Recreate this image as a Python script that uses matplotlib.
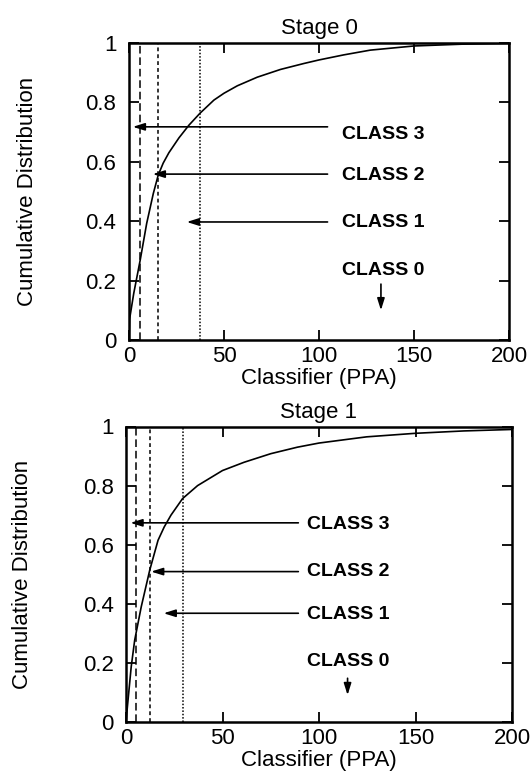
import matplotlib
matplotlib.use('Agg')
import matplotlib.pyplot as plt

plt.rcParams['font.family'] = ['Liberation Sans', 'DejaVu Sans']

# curve readings (Classifier PPA -> cumulative fraction)
stage0_x = [0, 0.3, 2.5, 5.9, 9.3, 12.8, 15.4, 18, 21, 26.3, 31.6, 37.4, 44.7, 50,
            57, 67.5, 79.7, 92, 100, 113, 127, 150, 175, 200]
stage0_y = [0, 0.07, 0.157, 0.269, 0.392, 0.493, 0.555, 0.595, 0.63, 0.68, 0.723,
            0.763, 0.807, 0.83, 0.855, 0.884, 0.910, 0.93, 0.942, 0.959, 0.975,
            0.989, 0.995, 0.998]

stage1_x = [0, 0.7, 2.7, 4.5, 7.9, 12.3, 16.6, 19.8, 23.3, 29.3, 37.1, 50, 61.2,
            75, 88.8, 100, 116.4, 124.7, 150, 175, 200]
stage1_y = [0, 0.05, 0.187, 0.277, 0.39, 0.514, 0.615, 0.66, 0.70, 0.756, 0.80,
            0.851, 0.879, 0.908, 0.93, 0.944, 0.958, 0.965, 0.977, 0.985, 0.99]

# class boundaries (vertical lines)
stage0_bounds = [6.0, 15.0, 37.2]
stage1_bounds = [5.0, 12.3, 29.5]

# arrows for classes 3, 2, 1 (height, tip) and the class 0 arrow
stage0_arrow_y = [0.717, 0.558, 0.397]
stage0_arrow_tip = [2.0, 12.5, 30.4]
stage0_arrow_tail = 104.5
stage0_c0 = (132.6, 0.188, 0.10)
stage1_arrow_y = [0.674, 0.509, 0.368]
stage1_arrow_tip = [2.3, 13.0, 19.5]
stage1_arrow_tail = 89.3
stage1_c0 = (114.8, 0.148, 0.091)

class_labels = ['CLASS 3', 'CLASS 2', 'CLASS 1', 'CLASS 0']
stage0_label_x = 112
stage0_label_y = [0.69, 0.553, 0.395, 0.235]
stage1_label_x = 94
stage1_label_y = [0.670, 0.509, 0.364, 0.204]

xticks = [0, 50, 100, 150, 200]
yticks = [0, 0.2, 0.4, 0.6, 0.8, 1]
ytick_labels = ['0', '0.2', '0.4', '0.6', '0.8', '1']

bound_styles = [(0, (5, 2.5)), (0, (2.5, 2)), (0, (1, 1.2))]

fig = plt.figure(figsize=(5.32, 7.77), dpi=100)
ax0 = fig.add_axes([129 / 532, 1 - 340 / 777, 380 / 532, 297.3 / 777])
ax1 = fig.add_axes([126 / 532, 1 - 722 / 777, 386 / 532, 295.5 / 777])

panels = [
    (ax0, 'Stage 0', stage0_x, stage0_y, stage0_bounds, stage0_arrow_y,
     stage0_arrow_tip, stage0_arrow_tail, stage0_c0, stage0_label_x, stage0_label_y, -0.24),
    (ax1, 'Stage 1', stage1_x, stage1_y, stage1_bounds, stage1_arrow_y,
     stage1_arrow_tip, stage1_arrow_tail, stage1_c0, stage1_label_x, stage1_label_y, -0.242),
]

for (ax, title, cx, cy, bounds, ay, atip, atail, c0, lx, ly, ylab_x) in panels:
    ax.plot(cx, cy, color='black', lw=1.2)
    for b, ls in zip(bounds, bound_styles):
        ax.axvline(b, color='black', lw=1.1, linestyle=ls)

    # horizontal class arrows
    for y, tip in zip(ay, atip):
        ax.annotate('', xy=(tip, y), xytext=(atail, y),
                    arrowprops=dict(arrowstyle='-|>,head_length=0.7,head_width=0.22',
                                    color='black', lw=1.2, shrinkA=0, shrinkB=0))
    # class 0 arrow points down
    ax.annotate('', xy=(c0[0], c0[2]), xytext=(c0[0], c0[1]),
                arrowprops=dict(arrowstyle='-|>,head_length=0.7,head_width=0.22',
                                color='black', lw=1.2, shrinkA=0, shrinkB=0))

    for lab, y in zip(class_labels, ly):
        ax.text(lx, y, lab, fontsize=14, fontweight='bold', ha='left', va='center')

    ax.set_xlim(0, 200)
    ax.set_ylim(0, 1)
    ax.set_xticks(xticks)
    ax.set_yticks(yticks)
    ax.set_yticklabels(ytick_labels)
    ax.tick_params(direction='in', top=True, right=True, length=7, width=1.3,
                   labelsize=16)
    ax.tick_params(axis='x', pad=4)
    ax.tick_params(axis='y', pad=9)
    for sp in ax.spines.values():
        sp.set_linewidth(1.8)

    ax.set_title(title, fontsize=16, pad=6)
    ax.set_xlabel('Classifier (PPA)', fontsize=16, labelpad=1)
    ax.set_ylabel('Cumulative Distribution', fontsize=16)
    ax.yaxis.set_label_coords(ylab_x, 0.5)

fig.savefig('out.png', dpi=100)
